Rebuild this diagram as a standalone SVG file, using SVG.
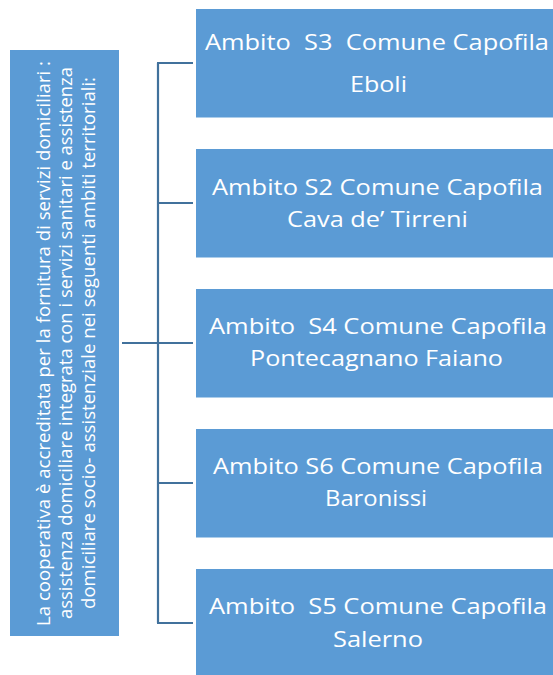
<svg xmlns="http://www.w3.org/2000/svg" width="553" height="675" viewBox="0 0 553 675">
<style>
.box{fill:#5B9BD5;}
.conn{stroke:#41719C;stroke-width:2.2;fill:none;}
.t{font-family:"Open Sans","Liberation Sans",sans-serif;fill:#FFFFFF;text-anchor:middle;}
.n{font-size:22px;}
.l{font-size:19px;}
</style>
<rect width="553" height="675" fill="#FFFFFF"/>
<g id="connectors">
<line class="conn" x1="122" y1="343" x2="158" y2="343"/>
<line class="conn" x1="158" y1="63" x2="158" y2="623"/>
<line class="conn" x1="157" y1="63" x2="193" y2="63"/>
<line class="conn" x1="158" y1="203" x2="193" y2="203"/>
<line class="conn" x1="158" y1="343" x2="193" y2="343"/>
<line class="conn" x1="158" y1="483" x2="193" y2="483"/>
<line class="conn" x1="157" y1="623" x2="193" y2="623"/>
</g>
<g id="root">
<rect class="box" x="10" y="50" width="109" height="586"/>
<text class="t l" transform="translate(49.5,343.5) rotate(-90)" textLength="565" lengthAdjust="spacingAndGlyphs">La cooperativa è accreditata per la fornitura di servizi domiciliari :</text>
<text class="t l" transform="translate(71.5,343) rotate(-90)" textLength="552" lengthAdjust="spacingAndGlyphs">assistenza domiciliare integrata con i servizi sanitari e assistenza</text>
<text class="t l" transform="translate(94.5,343) rotate(-90)" textLength="532" lengthAdjust="spacingAndGlyphs">domiciliare socio- assistenziale nei seguenti ambiti territoriali:</text>
</g>
<g id="node-s3">
<rect class="box" x="196" y="9" width="357" height="108.5"/>
<text class="t n" x="377" y="50" textLength="344" lengthAdjust="spacingAndGlyphs" xml:space="preserve">Ambito  S3  Comune Capofila</text>
<text class="t n" x="378.5" y="92" textLength="57" lengthAdjust="spacingAndGlyphs">Eboli</text>
</g>
<g id="node-s2">
<rect class="box" x="196" y="149" width="357" height="108.5"/>
<text class="t n" x="377.5" y="195" textLength="331" lengthAdjust="spacingAndGlyphs">Ambito S2 Comune Capofila</text>
<text class="t n" x="377.5" y="227" textLength="181" lengthAdjust="spacingAndGlyphs">Cava de’ Tirreni</text>
</g>
<g id="node-s4">
<rect class="box" x="196" y="289" width="357" height="108.5"/>
<text class="t n" x="378" y="334" textLength="338" lengthAdjust="spacingAndGlyphs" xml:space="preserve">Ambito  S4 Comune Capofila</text>
<text class="t n" x="376.5" y="366" textLength="253" lengthAdjust="spacingAndGlyphs">Pontecagnano Faiano</text>
</g>
<g id="node-s6">
<rect class="box" x="196" y="429" width="357" height="108.5"/>
<text class="t n" x="378" y="474" textLength="330" lengthAdjust="spacingAndGlyphs">Ambito S6 Comune Capofila</text>
<text class="t n" x="376" y="506" textLength="102" lengthAdjust="spacingAndGlyphs">Baronissi</text>
</g>
<g id="node-s5">
<rect class="box" x="196" y="569" width="357" height="108.5"/>
<text class="t n" x="378" y="614" textLength="338" lengthAdjust="spacingAndGlyphs" xml:space="preserve">Ambito  S5 Comune Capofila</text>
<text class="t n" x="378" y="647" textLength="90" lengthAdjust="spacingAndGlyphs">Salerno</text>
</g>
</svg>
